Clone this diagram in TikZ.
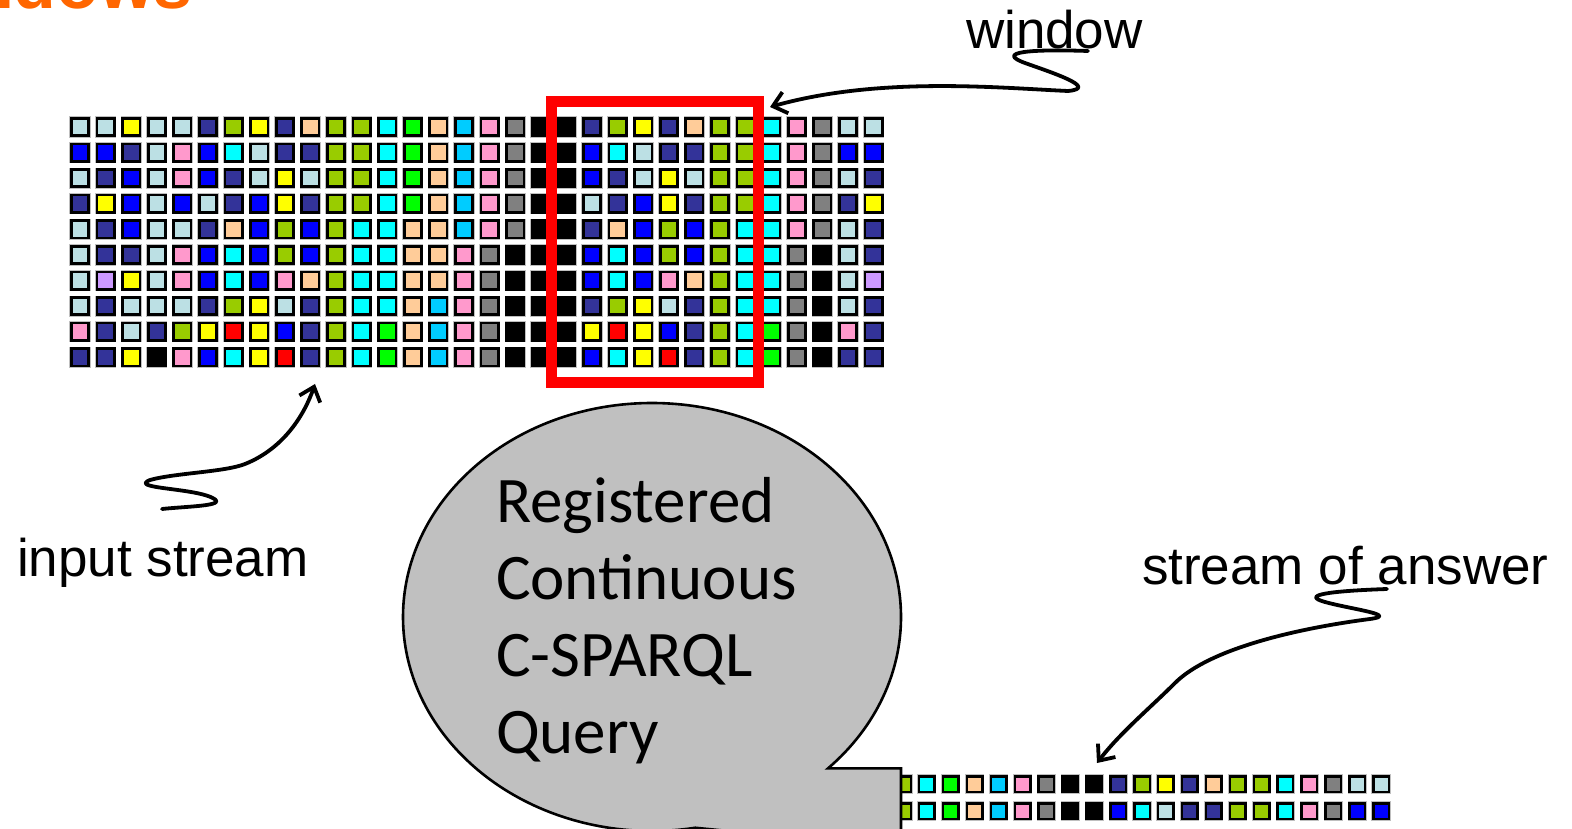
\documentclass[tikz,border=0pt]{standalone}
\usepackage{fontspec}
\setmainfont{Liberation Sans}
\newfontfamily\calfont{Carlito}
\usetikzlibrary{arrows.meta}
\definecolor{cL}{RGB}{188,224,228}
\definecolor{cN}{RGB}{51,51,153}
\definecolor{cY}{RGB}{255,255,0}
\definecolor{cO}{RGB}{153,204,0}
\definecolor{cP}{RGB}{255,204,153}
\definecolor{cB}{RGB}{0,0,255}
\definecolor{cC}{RGB}{0,255,255}
\definecolor{cK}{RGB}{255,153,204}
\definecolor{cR}{RGB}{255,0,0}
\definecolor{cX}{RGB}{0,0,0}
\definecolor{cG}{RGB}{0,255,0}
\definecolor{cS}{RGB}{0,204,255}
\definecolor{cA}{RGB}{128,128,128}
\definecolor{cV}{RGB}{204,153,255}
\definecolor{titleorange}{RGB}{255,102,0}
\definecolor{bubblegray}{RGB}{192,192,192}
\begin{document}
\begin{tikzpicture}[x=1pt,y=1pt,
  cell/.style={draw=black, line width=2.7pt, minimum size=17.3pt, inner sep=0pt, outer sep=0pt,
    preaction={draw=black!25, line width=4.0pt}},
  smallcell/.style={draw=black, line width=2.5pt, minimum size=15.5pt, inner sep=0pt, outer sep=0pt,
    preaction={draw=black!25, line width=3.6pt}},
  lab/.style={font=\fontsize{53}{63}\selectfont, inner sep=0pt, outer sep=0pt, anchor=base west},
  qtext/.style={font=\calfont\fontsize{65}{77}\selectfont, inner sep=0pt, outer sep=0pt, anchor=base west},
  squig/.style={line width=3.8pt, line cap=round, line join=round, -{Straight Barb[length=13pt,width=22pt]}},
  bubble/.style={draw=black, line width=2.6pt, fill=bubblegray},
  winbox/.style={draw=cR, line width=11pt, minimum width=207pt, minimum height=281pt, inner sep=0pt, outer sep=0pt}
]
\useasboundingbox (0,0) rectangle (1572,828);
\clip (0,0) rectangle (1572,828);

% title (cut off at the top)
\node[anchor=base east, font=\bfseries\fontsize{70}{80}\selectfont, text=titleorange, inner sep=0pt] (ttl) at (193,819) {ndows};

% input stream grid
\foreach \rowdata [count=\j from 0] in {
 {L,L,Y,L,L,N,O,Y,N,P,O,O,C,G,P,S,K,A,X,X,N,O,Y,N,P,O,O,C,K,A,L,L},
 {B,B,N,L,K,B,C,L,N,N,O,O,C,G,P,S,K,A,X,X,B,C,L,N,N,O,O,C,K,A,B,B},
 {L,N,B,L,K,B,N,L,Y,L,O,O,C,G,P,S,K,A,X,X,B,N,L,Y,L,O,O,C,K,A,L,N},
 {N,Y,B,L,B,L,N,B,Y,N,O,O,C,G,P,S,K,A,X,X,L,N,B,Y,N,O,O,C,K,A,N,Y},
 {L,N,B,L,L,N,P,B,O,B,O,C,C,P,P,S,K,A,X,X,N,P,B,O,B,O,C,C,K,A,L,N},
 {L,N,N,L,K,B,C,B,O,B,O,C,C,P,P,K,A,X,X,X,B,C,B,O,B,O,C,C,A,X,L,N},
 {L,V,Y,L,K,B,C,B,K,P,O,C,C,P,P,K,A,X,X,X,B,C,B,K,P,O,C,C,A,X,L,V},
 {L,N,L,L,L,N,O,Y,L,N,O,C,C,P,S,K,A,X,X,X,N,O,Y,L,N,O,C,C,A,X,L,N},
 {K,N,L,N,O,Y,R,Y,B,N,O,C,G,P,S,K,A,X,X,X,Y,R,Y,B,N,O,C,G,A,X,K,N},
 {N,N,Y,X,K,B,C,Y,R,N,O,C,G,P,S,K,A,X,X,X,B,C,Y,R,N,O,C,G,A,X,N,N}}{
  \foreach \cc [count=\i from 0] in \rowdata {
    \node[cell, fill=c\cc] (g\j-\i) at ({80+25.6*\i},{701-25.6*\j}) {};
  }
}

% window box
\node[winbox] (winbox) at (655,586) {};

% stream of answers (behind the bubble)
\foreach \cc [count=\k from 0] in {O,C,G,P,S,K,A,X,X,N,O,Y,N,P,O,O,C,K,A,L,L} {
  \node[smallcell, fill=c\cc] (a0-\k) at ({903+23.9*\k},44) {};
}
\foreach \cc [count=\k from 0] in {O,C,G,P,S,K,A,X,X,B,C,L,N,N,O,O,C,K,A,B,B} {
  \node[smallcell, fill=c\cc] (a1-\k) at ({903+23.9*\k},17) {};
}

% callout bubble
\draw[bubble] (828.07,59.68) arc[start angle=-45, end angle=280, x radius=249, y radius=214]
  -- (901,-20) -- (901,59.68) -- cycle;

\node[qtext] (q1) at (496,305) {Registered};
\node[qtext] (q2) at (496,228) {Continuous};
\node[qtext] (q3) at (496,151) {C-SPARQL};
\node[qtext] (q4) at (496,75) {Query};

% labels
\node[lab] (win) at (966,779) {window};
\node[lab] (inp) at (17,251) {input stream};
\node[lab] (ans) at (1142,243) {stream of answer};

% squiggly arrows
\coordinate (wS) at (1088,777);
\coordinate (wT) at (770,721);
\draw[squig] (wS) .. controls (1030,779) and (995,776) .. (1025,765)
  .. controls (1050,756) and (1100,740) .. (1068,737)
  .. controls (1000,740) and (880,752) .. (wT);

\coordinate (iS) at (162,319);
\coordinate (iT) at (315,444);
\draw[squig] (iS) .. controls (190,322) and (235,322) .. (208,332)
  .. controls (185,340) and (130,340) .. (150,348)
  .. controls (175,355) and (225,356) .. (245,364)
  .. controls (285,380) and (305,415) .. (iT);

\coordinate (aS) at (1387,239);
\coordinate (aT) at (1097,65);
\draw[squig] (aS) .. controls (1330,237) and (1300,233) .. (1325,226)
  .. controls (1350,219) and (1400,213) .. (1370,209)
  .. controls (1300,200) and (1210,180) .. (1175,145)
  .. controls (1150,120) and (1120,95) .. (aT);
\end{tikzpicture}
\end{document}
